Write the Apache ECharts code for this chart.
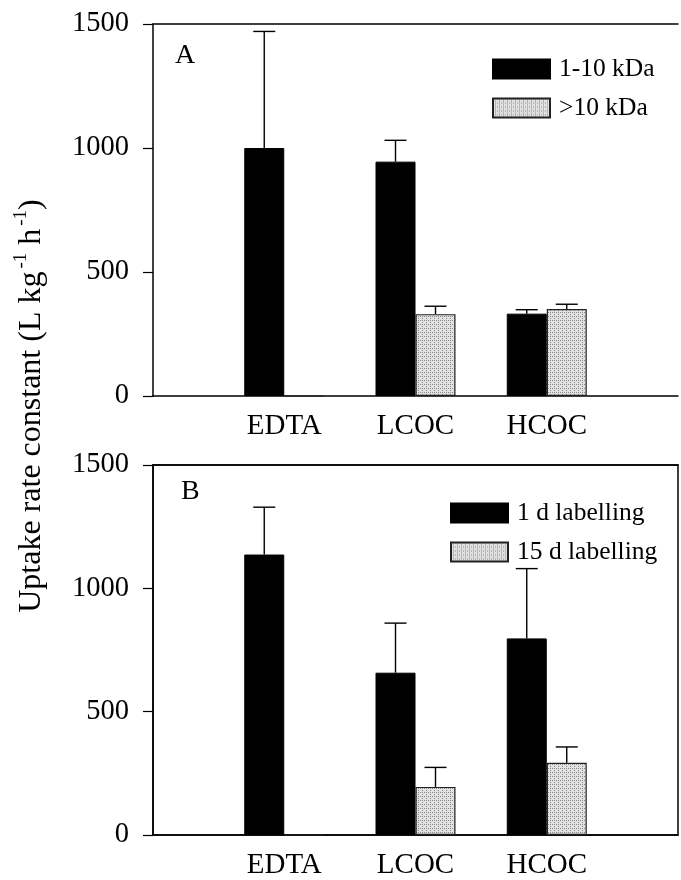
<!DOCTYPE html>
<html>
<head>
<meta charset="utf-8">
<script src="https://cdn.jsdelivr.net/npm/echarts@6/dist/echarts.min.js"></script>
<style>
  html, body { margin: 0; padding: 0; background: #fff; }
  #chart { width: 681px; height: 880px; }
</style>
</head>
<body>
<div id="chart"></div>
<script>
// categories (blank ends give the empty space at both sides of each panel)
const categories = ['', 'EDTA', 'LCOC', 'HCOC', ''];

// panel A: molecular size fractions
const aSmall = [null, 1000, 945, 332, null];
const aSmallErr = [null, 470, 86, 16, null];
const aLarge = [null, 0, 330, 351, null];
const aLargeErr = [null, null, 32, 19, null];

// panel B: labelling time
const bShort = [null, 1137, 658, 797, null];
const bShortErr = [null, 192, 201, 283, null];
const bLong = [null, 0, 195, 293, null];
const bLongErr = [null, null, 79, 64, null];

const yTicks = { min: 0, max: 1500, interval: 500 };

const FONT = '"Liberation Serif", "Times New Roman", serif';

// dotted grey fill like the printed hatch
function makePattern() {
  const c = document.createElement('canvas');
  c.width = 4; c.height = 4;
  const ctx = c.getContext('2d');
  ctx.fillStyle = '#e2e2e2';
  ctx.fillRect(0, 0, 4, 4);
  ctx.fillStyle = '#8a8a8a';
  ctx.fillRect(0, 0, 1, 1);
  ctx.fillRect(2, 2, 1, 1);
  ctx.fillRect(2, 0, 1, 1);
  return c;
}
const greyFill = { image: makePattern(), repeat: 'repeat' };

let myChart = echarts.init(document.getElementById('chart'));

function errSeries(vals, errs, gridIdx, shift) {
  const data = [];
  vals.forEach(function (v, i) {
    if (v != null && errs[i] != null) data.push([i, v, errs[i]]);
  });
  return {
    type: 'custom',
    xAxisIndex: gridIdx * 2,
    yAxisIndex: gridIdx,
    z: 1,
    silent: true,
    data: data,
    renderItem: function (params, api) {
      const base = api.coord([api.value(0), api.value(1)]);
      const top = api.coord([api.value(0), api.value(1) + api.value(2)]);
      const x = base[0] + shift;
      const st = { stroke: '#000', lineWidth: 1.4 };
      return {
        type: 'group',
        children: [
          { type: 'line', shape: { x1: x, y1: base[1], x2: x, y2: top[1] }, style: st },
          { type: 'line', shape: { x1: x - 11, y1: top[1], x2: x + 11, y2: top[1] }, style: st }
        ]
      };
    }
  };
}

function barSeries(name, vals, gridIdx, dark) {
  return {
    name: name,
    type: 'bar',
    xAxisIndex: gridIdx * 2,
    yAxisIndex: gridIdx,
    barWidth: 40,
    barGap: '0%',
    z: 2,
    data: vals,
    itemStyle: dark
      ? { color: '#000', borderColor: '#000', borderWidth: 1 }
      : { color: greyFill, borderColor: '#222', borderWidth: 1.2 }
  };
}

const grids = [
  { left: 153, right: 1, top: 24, height: 372 },
  { left: 153, right: 1, top: 465, height: 372, show: true, borderColor: '#000', borderWidth: 1.5, backgroundColor: 'transparent' }
];

const xAxes = [];
const yAxes = [];
[0, 1].forEach(function (g) {
  xAxes.push({
    type: 'category',
    gridIndex: g,
    data: categories,
    boundaryGap: false,
    axisLine: { lineStyle: { color: '#000', width: 1.5 } },
    axisTick: { show: false },
    axisLabel: { color: '#000', fontFamily: FONT, fontSize: 29, margin: 16, interval: 0 },
    splitLine: { show: false }
  });
  xAxes.push({
    type: 'category',
    gridIndex: g,
    position: 'top',
    data: categories,
    boundaryGap: false,
    axisLine: { lineStyle: { color: '#000', width: 1.5 } },
    axisTick: { show: false },
    axisLabel: { show: false },
    splitLine: { show: false }
  });
  yAxes.push({
    type: 'value',
    gridIndex: g,
    min: yTicks.min,
    max: yTicks.max,
    interval: yTicks.interval,
    axisLine: { show: true, lineStyle: { color: '#000', width: 1.5 } },
    axisTick: { show: true, inside: false, length: 10, lineStyle: { color: '#000', width: 1.2 } },
    axisLabel: {
      color: '#000', fontFamily: FONT, fontSize: 28.5, margin: 24,
      formatter: function (v) { return String(v); }
    },
    splitLine: { show: false }
  });
});

const legendText = { color: '#000', fontFamily: FONT, fontSize: 25.5, padding: [0, 0, 0, 4] };

let option = {
  animation: false,
  backgroundColor: '#fff',
  grid: grids,
  xAxis: xAxes,
  yAxis: yAxes,
  legend: [
    {
      data: ['1-10 kDa', '>10 kDa'],
      orient: 'vertical',
      left: 487, top: 51,
      itemWidth: 57, itemHeight: 19, itemGap: 13,
      icon: 'rect',
      textStyle: legendText,
      selectedMode: false
    },
    {
      data: ['1 d labelling', '15 d labelling'],
      orient: 'vertical',
      left: 445, top: 495,
      itemWidth: 57, itemHeight: 19, itemGap: 13,
      icon: 'rect',
      textStyle: legendText,
      selectedMode: false
    }
  ],
  graphic: [
    { type: 'text', left: 175, top: 42, style: { text: 'A', font: '28px ' + FONT, fill: '#000' } },
    { type: 'text', left: 181, top: 478, style: { text: 'B', font: '28px ' + FONT, fill: '#000' } },
    {
      type: 'text',
      x: 30, y: 406,
      rotation: Math.PI / 2,
      style: {
        text: '{t|Uptake rate constant (L kg}{s|-1}{t| h}{s|-1}{t|)}',
        align: 'center',
        verticalAlign: 'middle',
        rich: {
          t: { fontFamily: FONT, fontSize: 32, fill: '#000', color: '#000', verticalAlign: 'bottom', lineHeight: 36 },
          s: { fontFamily: FONT, fontSize: 19, fill: '#000', color: '#000', verticalAlign: 'top', lineHeight: 36, padding: [0, 0, 14, 3] }
        }
      }
    }
  ],
  series: [
    barSeries('1-10 kDa', aSmall, 0, true),
    barSeries('>10 kDa', aLarge, 0, false),
    errSeries(aSmall, aSmallErr, 0, -20),
    errSeries(aLarge, aLargeErr, 0, 20),
    barSeries('1 d labelling', bShort, 1, true),
    barSeries('15 d labelling', bLong, 1, false),
    errSeries(bShort, bShortErr, 1, -20),
    errSeries(bLong, bLongErr, 1, 20)
  ]
};
option && myChart.setOption(option);
</script>
</body>
</html>
